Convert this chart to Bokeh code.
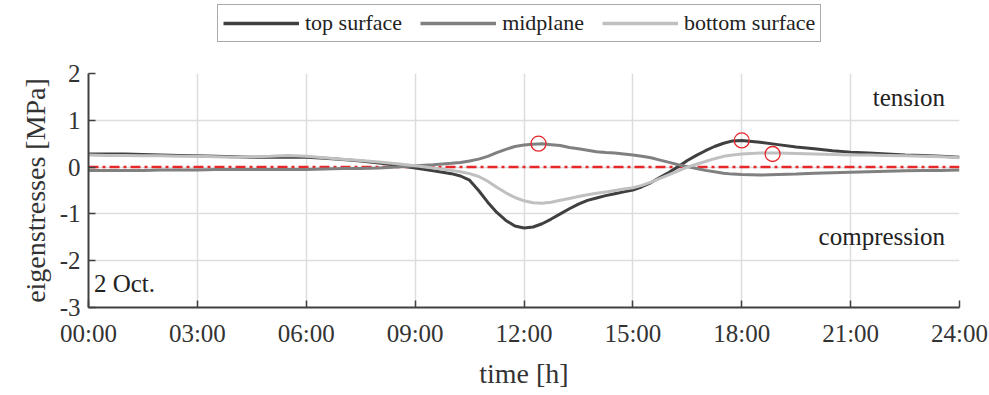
from bokeh.plotting import figure
from bokeh.layouts import column
from bokeh.models import Range1d, FixedTicker, Legend, LegendItem, Label
from bokeh.embed import file_html
from bokeh.resources import INLINE

hours = [0.0, 0.5, 1.0, 1.5, 2.0, 2.5, 3.0, 3.5, 4.0, 4.5, 5.0, 5.5, 6.0, 6.5, 7.0, 7.5, 8.0, 8.5, 9.0, 9.5,
         10.0, 10.25, 10.5, 10.75, 11.0, 11.25, 11.5, 11.75, 12.0, 12.25, 12.5, 12.75, 13.0, 13.25,
         13.5, 13.75, 14.0, 14.25, 14.5, 14.75, 15.0, 15.25, 15.5, 15.75, 16.0, 16.25, 16.5, 16.75,
         17.0, 17.25, 17.5, 17.75, 18.0,
         18.5, 19.0, 19.5, 20.0, 20.5, 21.0, 21.5, 22.0, 22.5, 23.0, 23.5, 24.0]
top_surface = [0.28, 0.28, 0.28, 0.27, 0.26, 0.25, 0.24, 0.23, 0.22, 0.21, 0.21, 0.21, 0.21, 0.19,
               0.16, 0.13, 0.09, 0.04, -0.02, -0.08,
               -0.14, -0.19, -0.28, -0.50, -0.75, -0.97, -1.14, -1.26, -1.30, -1.28, -1.21, -1.11,
               -1.00, -0.89, -0.79, -0.71, -0.66, -0.61, -0.57, -0.53, -0.49, -0.42, -0.33, -0.22,
               -0.11, 0.01, 0.14, 0.25, 0.35, 0.44, 0.51, 0.56, 0.57,
               0.53, 0.48, 0.43, 0.39, 0.35, 0.32, 0.30, 0.28, 0.26, 0.25, 0.23, 0.21]
midplane = [-0.07, -0.07, -0.07, -0.07, -0.06, -0.06, -0.06, -0.05, -0.05, -0.05, -0.05, -0.05,
            -0.05, -0.04, -0.03, -0.03, -0.02, 0.00, 0.03, 0.05,
            0.08, 0.10, 0.13, 0.17, 0.23, 0.31, 0.38, 0.44, 0.47, 0.49, 0.50, 0.48, 0.46, 0.42,
            0.39, 0.36, 0.33, 0.31, 0.30, 0.28, 0.26, 0.23, 0.20, 0.15, 0.10, 0.05, 0.01, -0.03,
            -0.07, -0.10, -0.13, -0.15, -0.16,
            -0.17, -0.16, -0.15, -0.13, -0.12, -0.11, -0.10, -0.09, -0.08, -0.07, -0.07, -0.06]
bottom_surface = [0.26, 0.25, 0.25, 0.24, 0.24, 0.23, 0.23, 0.22, 0.21, 0.22, 0.23, 0.25, 0.23,
                  0.20, 0.17, 0.14, 0.11, 0.07, 0.03, -0.02,
                  -0.07, -0.10, -0.14, -0.20, -0.30, -0.43, -0.55, -0.65, -0.72, -0.76, -0.77,
                  -0.75, -0.71, -0.67, -0.63, -0.59, -0.56, -0.53, -0.50, -0.47, -0.44, -0.39,
                  -0.32, -0.24, -0.16, -0.08, 0.00, 0.06, 0.12, 0.18, 0.23, 0.26, 0.28,
                  0.30, 0.30, 0.29, 0.28, 0.27, 0.26, 0.26, 0.25, 0.24, 0.23, 0.22, 0.20]
peak_x = [12.4, 18.0, 18.85]
peak_y = [0.50, 0.57, 0.28]
series_names = ["top surface", "midplane", "bottom surface"]
series_colors = ["#404040", "#808080", "#c0c0c0"]
x_ticks = [0, 3, 6, 9, 12, 15, 18, 21, 24]
x_tick_labels = ["00:00", "03:00", "06:00", "09:00", "12:00", "15:00", "18:00", "21:00", "24:00"]
y_ticks = [-3, -2, -1, 0, 1, 2]
y_tick_labels = ["-3", "-2", "-1", "0", "1", "2"]
series = [top_surface, midplane, bottom_surface]

FONT = "Liberation Serif"
LEG_H = 58

# ---- legend strip (series drawn off-view; only the legend shows) ----
lf = figure(width=989, height=LEG_H, output_backend="svg", toolbar_location=None,
            x_range=Range1d(0, 24), y_range=Range1d(50, 51), min_border=0)
lf.outline_line_color = None
lf.axis.visible = False
lf.grid.visible = False
leg_items = []
for name, col, ys in zip(series_names, series_colors, series):
    r = lf.line(hours, ys, line_color=col, line_width=3.5)
    leg_items.append(LegendItem(label=name, renderers=[r]))
legend = Legend(items=leg_items, orientation="horizontal", location=(129, 16),
                label_text_font=FONT, label_text_font_size="22px", label_text_color="#222222",
                glyph_width=76, glyph_height=20, label_standoff=6, spacing=18,
                padding=5, margin=0, border_line_color="#555555", border_line_width=1.2,
                background_fill_alpha=1)
lf.add_layout(legend, "center")

# ---- main plot ----
p = figure(width=989, height=395 - LEG_H, output_backend="svg", toolbar_location=None,
           x_range=Range1d(0, 24), y_range=Range1d(-3, 2),
           min_border_left=88, min_border_right=30, min_border_bottom=88,
           min_border_top=73 - LEG_H)
p.outline_line_color = None
p.background_fill_color = "white"

for ax in (p.xaxis[0], p.yaxis[0]):
    ax.axis_line_color = "#404040"
    ax.axis_line_width = 2
    ax.major_tick_in = 7
    ax.major_tick_out = 0
    ax.major_tick_line_color = "#404040"
    ax.major_tick_line_width = 1.5
    ax.minor_tick_line_color = None
    ax.major_label_text_font = FONT
    ax.major_label_text_font_size = "25px"
    ax.major_label_text_color = "#333333"
    ax.axis_label_text_font = FONT
    ax.axis_label_text_font_size = "28px"
    ax.axis_label_text_font_style = "normal"
    ax.axis_label_text_color = "#333333"

p.xaxis.ticker = FixedTicker(ticks=x_ticks)
p.xaxis.major_label_overrides = dict(zip(x_ticks, x_tick_labels))
p.yaxis.ticker = FixedTicker(ticks=y_ticks)
p.yaxis.major_label_overrides = dict(zip(y_ticks, y_tick_labels))
p.xaxis.axis_label = "time [h]"
p.yaxis.axis_label = "eigenstresses [MPa]"
p.xaxis.major_label_standoff = 12
p.yaxis.major_label_standoff = 8
p.xaxis.axis_label_standoff = 8
p.yaxis.axis_label_standoff = 6

p.grid.grid_line_color = "#dddddd"
p.grid.grid_line_width = 1.5

p.line([0, 24], [0, 0], line_color="#e8272b", line_width=2.5, line_dash="10 4 3 4")

for ys, col in zip(series, series_colors):
    p.line(hours, ys, line_color=col, line_width=3)

p.scatter(peak_x, peak_y, marker="circle", size=15, fill_color=None,
          line_color="#e8272b", line_width=1.3)

for txt, x, y, align in [("tension", 23.6, 1.49, "right"),
                         ("compression", 23.6, -1.48, "right"),
                         ("2 Oct.", 0.15, -2.48, "left")]:
    p.add_layout(Label(x=x, y=y, text=txt, text_align=align, text_baseline="middle",
                       text_font=FONT, text_font_size="25px", text_color="#222222"))

layout = column(lf, p, spacing=0)
open("out.html", "w").write(file_html(layout, INLINE))
